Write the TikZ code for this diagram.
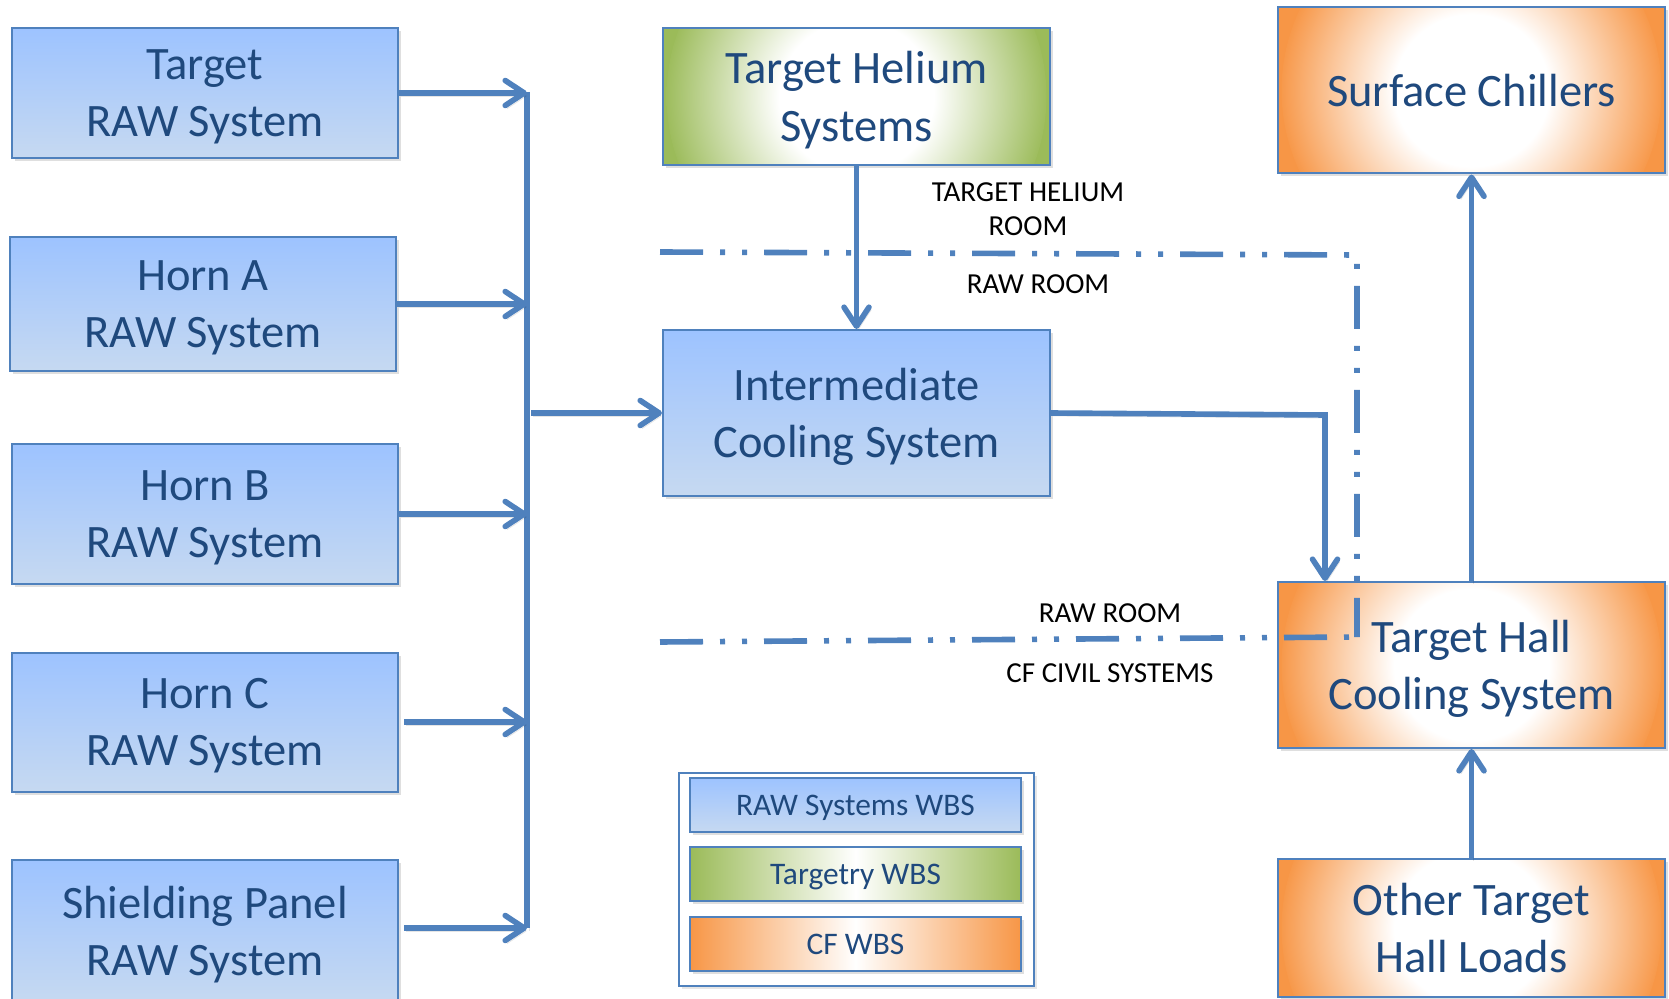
\documentclass[tikz,border=0pt]{standalone}
\usepackage{fontspec}
\setmainfont{Carlito}
\usetikzlibrary{arrows.meta,shadows}
\definecolor{txt}{HTML}{1F497D}
\definecolor{bord}{HTML}{4F81BD}
\definecolor{wirecol}{HTML}{4F81BD}
\definecolor{bluetop}{HTML}{9DC3FF}
\definecolor{bluebot}{HTML}{C6D9F1}
\definecolor{grn}{HTML}{9BBB59}
\definecolor{org}{HTML}{F79646}
\pgfdeclareradialshading{grnrad}{\pgfpoint{0bp}{0bp}}{color(0bp)=(white); color(10bp)=(white); color(25bp)=(grn); color(50bp)=(grn)}
\pgfdeclareradialshading{orgrad}{\pgfpoint{0bp}{0bp}}{color(0bp)=(white); color(10bp)=(white); color(25bp)=(org); color(50bp)=(org)}
\begin{document}
\begin{tikzpicture}[x=0.5pt,y=-0.5pt,
  base/.style={draw=bord, line width=1pt, text=txt, align=center, inner sep=0pt, text depth=0pt,
    font=\fontsize{23.25}{28.75}\selectfont,
    drop shadow={shadow xshift=1.5pt, shadow yshift=-1.5pt, opacity=0.25}},
  bluebox/.style={base, top color=bluetop, bottom color=bluebot},
  radbox/.style={base, fill=#1, path picture={\shade[shading=#1rad] (path picture bounding box.center) circle (95pt);}},
  lshadow/.style={preaction={draw=black, opacity=0.1, transform canvas={shift={(1pt,-1.5pt)}}}},
  wire/.style={draw=wirecol, line width=2.8pt, lshadow},
  arr/.style={wire, -{Straight Barb[round, length=9.5pt, width=12.5pt]}},
  room/.style={draw=wirecol, line width=2.8pt, dash pattern=on 21.5pt off 8.5pt on 2.5pt off 8.5pt on 2.5pt off 8.5pt},
  lbl/.style={font=\fontsize{14.5}{17}\selectfont, align=center, text=black},
  legitem/.style={base, font=\fontsize{15.7}{18}\selectfont, minimum width=165.5pt, minimum height=27pt}
]
\useasboundingbox (0,0) rectangle (1669,999);

% left column
\node[bluebox, minimum width=193pt, minimum height=65pt] (tr) at (205,93) {Target\\RAW System};
\node[bluebox, minimum width=193.25pt, minimum height=67pt] (ha) at (203,304) {Horn A\\RAW System};
\node[bluebox, minimum width=193pt, minimum height=70pt] (hb) at (205,514) {Horn B\\RAW System};
\node[bluebox, minimum width=193pt, minimum height=69.5pt] (hc) at (205,722) {Horn C\\RAW System};
\node[bluebox, minimum width=193pt, minimum height=71pt] (sp) at (205,931) {Shielding Panel\\RAW System};

% middle column
\node[radbox=grn, minimum width=193.5pt, minimum height=68.5pt] (th) at (856.5,96.5) {Target Helium\\Systems};
\node[bluebox, minimum width=193.5pt, minimum height=83pt] (im) at (856.5,413) {Intermediate\\Cooling System};

% right column
\node[radbox=org, minimum width=193.5pt, minimum height=83pt] (sc) at (1471.5,90.5) {Surface Chillers};
\node[radbox=org, minimum width=193.5pt, minimum height=83pt] (hall) at (1471.5,665) {Target Hall\\Cooling System};
\node[radbox=org, minimum width=193.5pt, minimum height=69pt] (oth) at (1471.5,928) {Other Target\\Hall Loads};

% bus
\coordinate (bt) at (527,92);
\coordinate (bb) at (527,928);
\draw[wire] (bt) -- (bb);
\draw[arr] (tr.east) -- (tr.east -| bt);
\draw[arr] (ha.east) -- (ha.east -| bt);
\draw[arr] (hb.east) -- (hb.east -| bt);
\draw[arr] ([xshift=2.5pt]hc.east) -- (hc.east -| bt);
\draw[arr] ([xshift=2.5pt,yshift=1.5pt]sp.east) -- ([yshift=1.5pt]sp.east -| bt);
\draw[arr] ([xshift=2pt]im.west -| bt) -- (im.west);

% other connectors
\draw[arr] (th.south) -- (im.north);
\coordinate (k) at (1325,415);
\draw[arr] (im.east) -- (k) -- (k |- hall.north);
\draw[arr] (hall.north) -- (sc.south);
\draw[arr] (oth.north) -- (hall.south);

% room boundaries
\coordinate (r1) at (660,252);
\coordinate (r2) at (1357,255);
\coordinate (r3) at (1357,637);
\coordinate (r4) at (660,642);
\draw[room] (r1) -- (r2) -- (r3);
\draw[room] (r4) -- (r3);

\node[lbl] (l1) at (1028,209) {TARGET HELIUM\\ROOM};
\node[lbl] (l2) at (1038,284) {RAW ROOM};
\node[lbl] (l3) at (1110,613) {RAW ROOM};
\node[lbl] (l4) at (1110,673) {CF CIVIL SYSTEMS};

% legend
\node[draw=bord, line width=1pt, fill=white, minimum width=177.5pt, minimum height=106.5pt,
  drop shadow={shadow xshift=1.5pt, shadow yshift=-1.5pt, opacity=0.2}] (leg) at (856.5,879.5) {};
\node[legitem, top color=bluetop, bottom color=bluebot] (lraw) at (855.5,805) {RAW Systems WBS};
\node[legitem, left color=grn, right color=grn, middle color=white] (ltg) at (855.5,874) {Targetry WBS};
\node[legitem, left color=org, right color=org, middle color=white] (lcf) at (855.5,944) {CF WBS};
\end{tikzpicture}
\end{document}
